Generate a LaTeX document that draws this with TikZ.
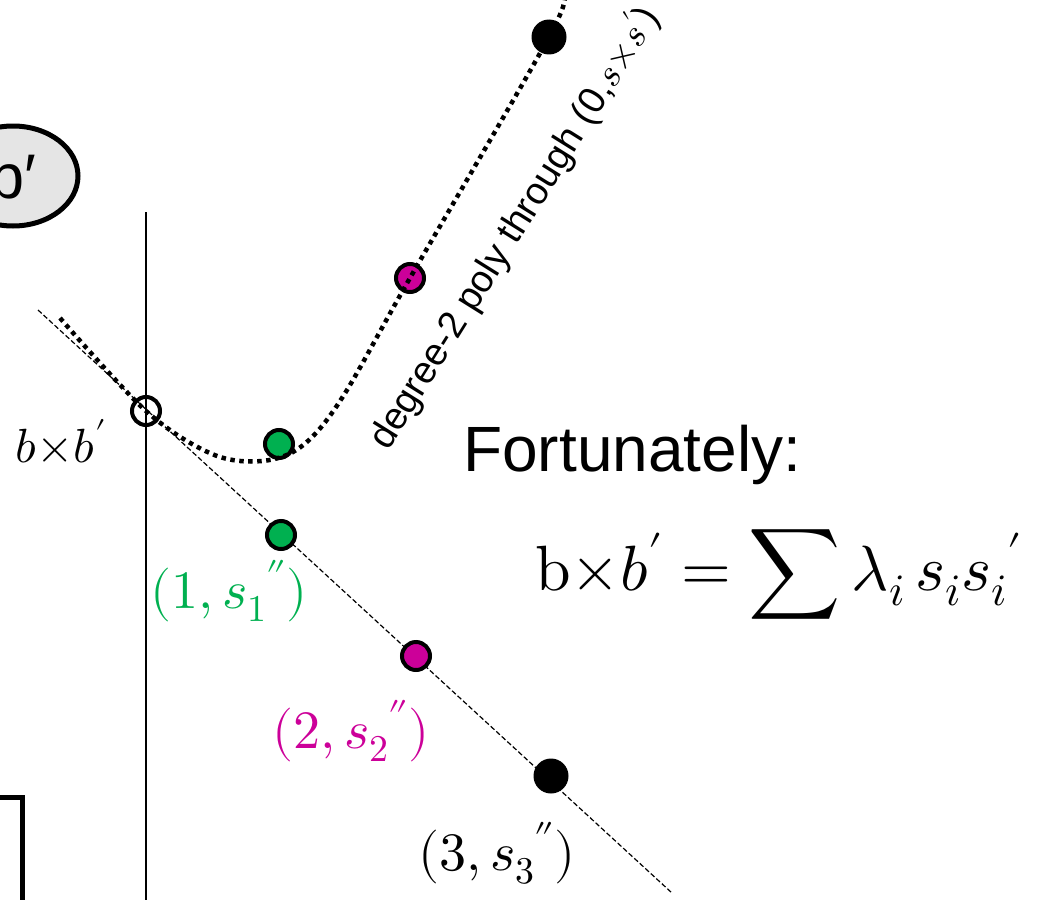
\documentclass[tikz,border=0pt]{standalone}
\usepackage{fontspec}
\usepackage{unicode-math}
\setmainfont{Liberation Sans}
\setmathfont{Latin Modern Math}
\usetikzlibrary{shapes.geometric}
\definecolor{ptgreen}{RGB}{0,176,80}
\definecolor{ptmagenta}{RGB}{204,0,153}
\tikzset{
  ringpt/.style={circle,draw=black,line width=4pt,minimum size=28pt,inner sep=0pt},
  greenpt/.style={ringpt,fill=ptgreen},
  magpt/.style={ringpt,fill=ptmagenta},
  blkpt/.style={circle,fill=black,minimum size=35pt,inner sep=0pt},
  polycurve/.style={line width=4.5pt,dash pattern=on 4.5pt off 4.5pt},
  thinline/.style={line width=1.2pt,dash pattern=on 5pt off 2.5pt},
  bubble/.style={ellipse,draw=black,fill=gray!20,line width=5pt,minimum width=130pt,minimum height=100pt,inner sep=0pt}
}
\begin{document}
\begin{tikzpicture}[x=1pt,y=-1pt]
    \useasboundingbox (0,0) rectangle (1040,899);
    \coordinate (ytop) at (146,212);
    \coordinate (ybot) at (146,905);
    \coordinate (ls) at (38,310);
    \coordinate (le) at (672,893);
    \coordinate (c0) at (60,318);
    \coordinate (c2) at (212,454);
    \coordinate (cmin) at (262,461);
    \coordinate (c3) at (302,446);
    \coordinate (c4) at (342,398);
    \coordinate (c1) at (563,-5);
    \coordinate (bx0) at (-100,797);
    \coordinate (bx1) at (22,797);
    \coordinate (bx2) at (22,905);
    \draw[line width=2pt] (ytop) -- (ybot);
    \draw[thinline] (ls) -- (le);
    \node[bubble] (bb) at (13,176) {\fontsize{63}{70}\selectfont b′};
    \draw[line width=5pt] (bx0) -- (bx1) -- (bx2);
    \node[ringpt] (z) at (146,411) {};
    \node[greenpt] (g0) at (279,444) {};
    \node[greenpt] (g1) at (281,535) {};
    \node[magpt] (m0) at (410,278) {};
    \node[magpt] (m1) at (416,656) {};
    \node[blkpt] (k0) at (549,37) {};
    \node[blkpt] (k1) at (551,776) {};
    \draw[polycurve] plot[smooth,tension=0.55] coordinates {(c0) (z.center) (c2) (cmin) (c3) (c4) (m0.center) (k0.center) (c1)};
    \node[anchor=base west,inner sep=0pt] (lz) at (15,462) {\fontsize{48}{54}\selectfont$b{\times}b'$};
    \node[anchor=base west,inner sep=0pt,text=ptgreen] (l1) at (150,608) {\fontsize{54}{60}\selectfont$(1,{s_1}'')$};
    \node[anchor=base west,inner sep=0pt,text=ptmagenta] (l2) at (272,748) {\fontsize{54}{60}\selectfont$(2,{s_2}'')$};
    \node[anchor=base west,inner sep=0pt] (l3) at (418,870) {\fontsize{54}{60}\selectfont$(3,{s_3}'')$};
    \node[anchor=base west,rotate=58,inner sep=0pt] (deg) at (388,452) {\fontsize{38}{44}\selectfont degree-2 poly through (0,$s{\times}s'$)};
    \node[anchor=base west,inner sep=0pt] (fort) at (463,471) {\fontsize{64}{70}\selectfont Fortunately:};
    \node[anchor=base west,inner sep=0pt] (eq) at (535,590) {\fontsize{64}{70}\selectfont$\symup{b}{\times}b'=\displaystyle\sum\lambda_i\,s_i{s_i}'$};
\end{tikzpicture}
\end{document}
